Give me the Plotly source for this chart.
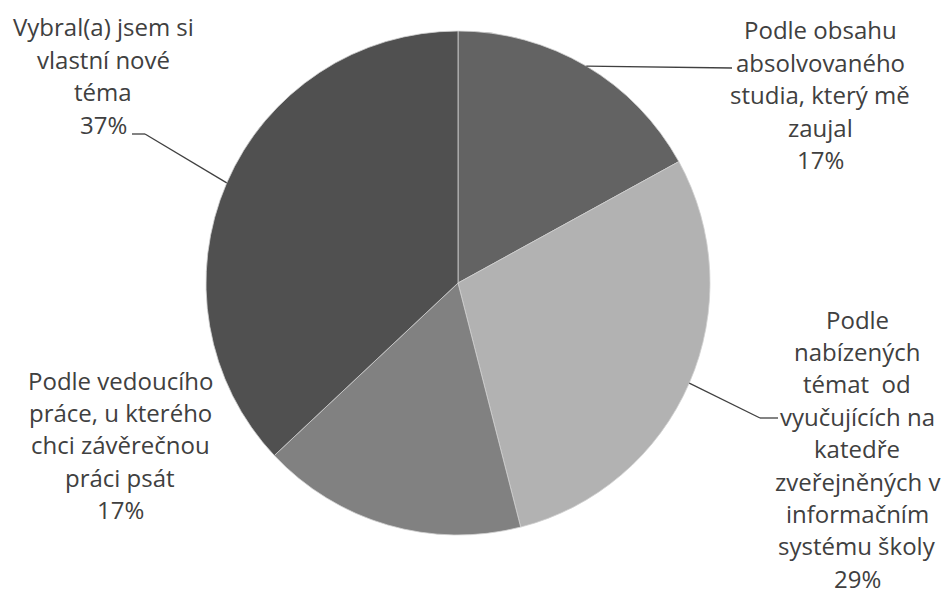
import math
import plotly.graph_objects as go

# ---- data ----
categories = [
    "Podle obsahu absolvovaného studia, který mě zaujal",
    "Podle nabízených témat od vyučujících na katedře zveřejněných v informačním systému školy",
    "Podle vedoucího práce, u kterého chci závěrečnou práci psát",
    "Vybral(a) jsem si vlastní nové téma",
]
values = [17, 29, 17, 37]
label_lines = [
    ["Podle obsahu", "absolvovaného", "studia, který mě", "zaujal"],
    ["Podle", "nabízených", "témat  od", "vyučujících na", "katedře", "zveřejněných v", "informačním", "systému školy"],
    ["Podle vedoucího", "práce, u kterého", "chci závěrečnou", "práci psát"],
    ["Vybral(a) jsem si", "vlastní nové", "téma"],
]
colors = ["#636363", "#b2b2b2", "#818181", "#505050"]

# ---- layout geometry (pixels) ----
W, H = 944, 594
CX, CY, R = 458, 283, 252
# label block: centre x, centre y of first line
label_pos = [(820, 30), (857, 319), (120, 380), (103, 27)]
LINE_H = 32.4
# leader line extra points (elbow / end) per slice, None = no leader
leaders = [
    [(732, 68)],
    [(760, 418), (778, 418)],
    None,
    [(145, 134), (132, 134)],
]

def px(x):
    return x / W

def py(y):
    return 1 - y / H

fig = go.Figure()
fig.add_trace(go.Pie(
    labels=categories,
    values=values,
    sort=False,
    direction="clockwise",
    rotation=0,
    marker=dict(colors=colors, line=dict(color="#d0d0d0", width=0.8)),
    textinfo="none",
    hoverinfo="label+percent",
    showlegend=False,
    domain=dict(x=[px(CX - R), px(CX + R)], y=[py(CY + R), py(CY - R)]),
))

total = sum(values)
annotations = []
shapes = []
cum = 0
for i, v in enumerate(values):
    pct = round(100 * v / total)
    lines = label_lines[i] + [f"{pct}%"]
    lx, ly = label_pos[i]
    for k, t in enumerate(lines):
        annotations.append(dict(
            x=px(lx), y=py(ly + k * LINE_H), xref="paper", yref="paper",
            text=t, showarrow=False, xanchor="center", yanchor="middle",
            borderpad=0,
            font=dict(family="Open Sans", size=24, color="#404040"),
        ))
    mid = (cum + v / 2) / total * 2 * math.pi
    cum += v
    if leaders[i]:
        pts = [(CX + R * math.sin(mid), CY - R * math.cos(mid))] + leaders[i]
        for (x0, y0), (x1, y1) in zip(pts[:-1], pts[1:]):
            shapes.append(dict(type="line", xref="paper", yref="paper",
                               x0=px(x0), y0=py(y0), x1=px(x1), y1=py(y1),
                               line=dict(color="#404040", width=1.3)))

fig.update_layout(
    width=W, height=H,
    margin=dict(l=0, r=0, t=0, b=0),
    paper_bgcolor="white", plot_bgcolor="white",
    annotations=annotations, shapes=shapes,
)
fig.write_html("out.html",
               config={"displayModeBar": False},
               post_script="document.body.style.margin='0';document.body.style.overflow='hidden';")
